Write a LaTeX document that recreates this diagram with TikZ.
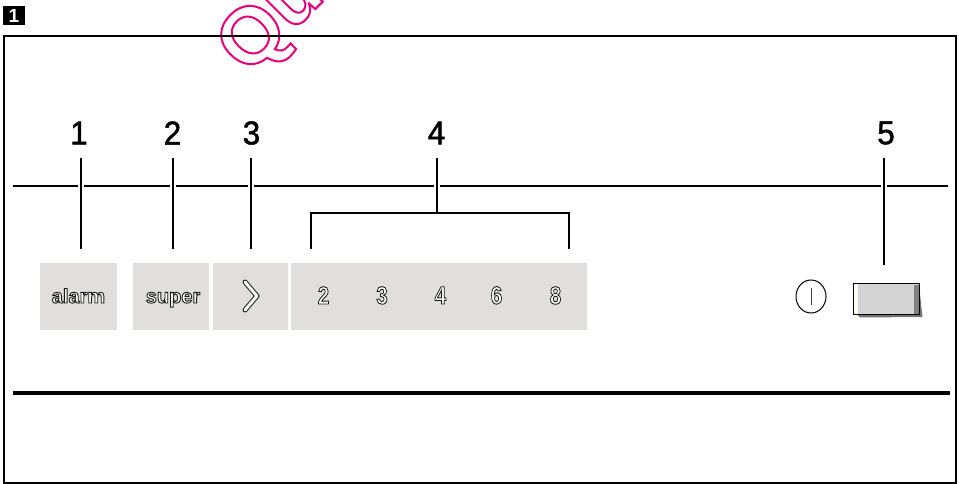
\documentclass[tikz,border=0pt]{standalone}
\usepackage{fontspec}
\setmainfont{Liberation Sans}
\usetikzlibrary{positioning,calc,shapes.geometric}
\newcommand{\hollowtext}[2]{\special{pdf:code q 2 Tr #1 w 0.1 0.1 0.1 RG 1 1 1 rg}#2\special{pdf:code Q}}
\newcommand{\heavytext}[1]{\special{pdf:code q 2 Tr 0.5 w}#1\special{pdf:code Q}}
\definecolor{panelgray}{HTML}{E0DFDD}
\definecolor{stamppink}{HTML}{E6007E}
\begin{document}
\begin{tikzpicture}[
    x=1pt, y=-1pt,
    panel/.style={fill=panelgray, inner sep=0pt, anchor=north west, minimum height=67pt},
    number/.style={font=\fontsize{33}{33}\selectfont, xscale=0.95, inner sep=0pt},
    keylabel/.style={font=\bfseries\fontsize{20}{20}\selectfont, inner sep=0pt, anchor=base},
    hourlabel/.style={font=\bfseries\fontsize{25}{25}\selectfont, xscale=0.82, inner sep=0pt, anchor=base},
    leader/.style={line width=1.5pt, preaction={draw, white, line width=6pt}},
    line/.style={line width=1.7pt}
]
\useasboundingbox (0,0) rectangle (959,484);

% Stamp
\begin{scope}
\clip (0,0) rectangle (959,484);
\node[rotate=45, inner sep=0pt, font=\bfseries\fontsize{80}{80}\selectfont] (stamp) at (273,23) {\special{pdf:code q 1 Tr 2 w 0.902 0 0.494 RG}Qu\special{pdf:code Q}};
\end{scope}

% Frame
\draw[line width=2pt] (4,483) -- (4,36) -- (955.5,36) -- (955.5,483) -- cycle;
\node[fill=black, text=white, inner sep=0pt, minimum width=22pt, minimum height=19pt, font=\bfseries\fontsize{19}{19}\selectfont] (tag) at (14,15.5) {1};

% Rules
\coordinate (ruleL) at (13,186);
\coordinate (ruleR) at (948,186);
\coordinate (baseL) at (13,393);
\coordinate (baseR) at (950,393);
\draw[line] (ruleL) -- (ruleR);
\draw[line width=3.6pt] (baseL) -- (baseR);

% Panels
\node[panel, minimum width=77pt] (alarm) at (40,263) {};
\node[panel, minimum width=76pt] (super) at (133,263) {};
\node[panel, minimum width=75pt] (arrowkey) at (213,263) {};
\node[panel, minimum width=296pt] (hours) at (291,263) {};

% Key labels
\node[keylabel] (alarmtext) at (78.5,303) {\hollowtext{0.9}{alarm}};
\node[keylabel] (supertext) at (173,303) {\hollowtext{0.9}{super}};
\foreach \x/\d in {323.5/2, 382/3, 440.5/4, 496.5/6, 555.5/8}
  \node[hourlabel] (hour\d) at (\x,304) {\hollowtext{0.9}{\d}};
\draw[line width=5pt, black!90, line cap=round, line join=round] (245,282) -- (257,296) -- (245,310);
\draw[line width=3pt, white, line cap=round, line join=round] (245,282) -- (257,296) -- (245,310);

% Switch
\node[ellipse, draw, line width=1pt, minimum width=30pt, minimum height=33pt, inner sep=0pt] (onmark) at (811,296.5) {};
\draw[line width=1pt, black!75] ($(onmark)+(0,-8.5)$) -- ($(onmark)+(0,8)$);
\fill[black!55] (855,312) -- (919,285) -- (922.5,317) -- (860,317.5) -- cycle;
\node[draw, line width=1.3pt, fill=black!17, inner sep=0pt, anchor=north west, minimum width=66pt, minimum height=31pt] (switch) at (853,283) {};
\fill[white!95!yellow] ($(switch.north west)+(1,1)$) rectangle ($(switch.south west)+(5,-1)$);
\fill[black!50] ($(switch.north east)+(-6,2)$) rectangle ($(switch.south east)+(-1,-1)$);

% Numbers
\node[number] (n1) at (79,133) {\heavytext{1}};
\node[number] (n2) at (172.5,133) {\heavytext{2}};
\node[number] (n3) at (251.5,133) {\heavytext{3}};
\node[number] (n4) at (436.5,133) {\heavytext{4}};
\node[number] (n5) at (886,133) {\heavytext{5}};

% Leaders
\coordinate (to1) at (81,249);
\coordinate (to2) at (173,249);
\coordinate (to3) at (251,249);
\coordinate (to5) at (884,265);
\coordinate (brL) at (311,249);
\coordinate (brR) at (569,249);
\draw[leader] (81,158) -- (to1);
\draw[leader] (173,158) -- (to2);
\draw[leader] (251,158) -- (to3);
\draw[leader] (884,158) -- (to5);
\draw[leader] (437,158) -- (437,213);
\draw[line width=1.5pt] (brL) -- (311,213) -- (569,213) -- (brR);

\end{tikzpicture}
\end{document}
